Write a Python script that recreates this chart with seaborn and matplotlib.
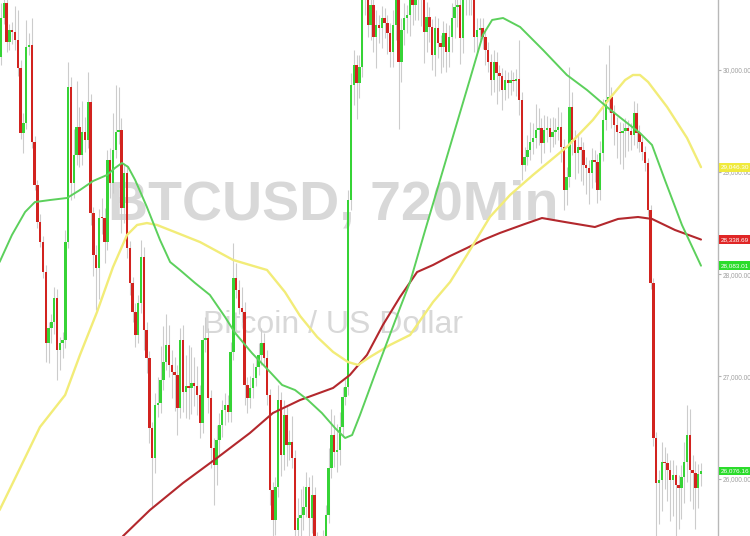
import matplotlib
matplotlib.use("Agg")
import matplotlib.pyplot as plt
import matplotlib.transforms as mtrans
from matplotlib.ticker import FixedLocator, FuncFormatter
import seaborn as sns
import numpy as np

sns.set_theme(style="white")
plt.rcParams['font.family'] = ['Liberation Sans Narrow', 'Liberation Sans', 'DejaVu Sans']

# ---------------- data (BTCUSD, 12h candles) ----------------
first_open = 30123
closes = [
    30504, 30651, 30269, 30387, 30367, 30289, 30015, 29380, 29478, 30221,
    30240, 29292, 28872, 28510, 28314, 28021, 27328, 27474, 27533, 27767,
    27259, 27328, 27357, 28314, 29830, 28892, 29165, 29439, 29165, 29390,
    29312, 29683, 28598, 28187, 28060, 28549, 28545, 28314, 29117, 28892,
    29214, 29390, 29410, 28647, 28989, 28256, 27914, 27631, 27406, 27719,
    28168, 27455, 27181, 26496, 26203, 26721, 26741, 26966, 27142, 27308,
    27113, 27044, 27015, 26692, 27357, 26849, 26907, 26888, 26937, 26907,
    26819, 26545, 27357, 27377, 26790, 26301, 26135, 26379, 26526, 26672,
    26721, 26653, 27240, 27963, 27846, 27670, 27631, 26917, 26790, 26888,
    26986, 27093, 27211, 27328, 27181, 26819, 25890, 25598, 25920, 26770,
    26232, 26623, 26330, 26360, 26203, 25500, 25617, 25646, 25725, 25920,
    25617, 25842, 25402, 25109, 25207, 25422, 25646, 26105, 26428, 26262,
    26281, 26506, 26800, 26897, 28725, 29849, 30045, 29869, 30025, 30680,
    30875, 30436, 30631, 30318, 30436, 30406, 30504, 30455, 30357, 30172,
    30436, 30778, 30074, 30387, 30504, 30533, 30729, 30631, 30758, 30680,
    30709, 30367, 30514, 30416, 30142, 30406, 30260, 30221, 30357, 30172,
    30318, 30504, 30612, 30631, 30309, 30729, 30827, 30729, 30680, 30318,
    30387, 30406, 30318, 30191, 30074, 29898, 30074, 29966, 29937, 29800,
    29898, 29869, 29898, 29890, 29908, 29703, 29068, 29146, 29214, 29292,
    29332, 29410, 29429, 29283, 29410, 29429, 29341, 29390, 29410, 29439,
    29244, 28823, 28950, 29634, 29312, 29185, 29244, 29214, 29068, 29038,
    28989, 29117, 29097, 28823, 29185, 29508, 29703, 29732, 29576, 29459,
    29390, 29380, 29400, 29429, 29400, 29361, 29576, 29380, 29292, 29195,
    29087, 28627, 27914, 26399, 25959, 25988, 26164, 26154, 26086, 25988,
    26037, 25939, 25910, 26017, 26164, 26428, 26086, 26057, 25910, 26047,
    26076.16]

# upper / lower wick lengths (USD beyond the body)
up_wick = [
    150, 100, 120, 60, 80, 250, 290, 80, 100, 260,
    120, 260, 60, 50, 80, 60, 70, 60, 80, 110,
    90, 60, 80, 120, 245, 100, 250, 450, 200, 300,
    150, 290, 80, 60, 100, 90, 200, 100, 100, 120,
    360, 460, 420, 120, 100, 80, 70, 60, 90, 80,
    165, 100, 80, 70, 60, 120, 250, 330, 350, 300,
    200, 150, 150, 100, 120, 150, 300, 400, 350, 250,
    200, 100, 150, 200, 100, 80, 100, 150, 120, 100,
    120, 100, 100, 340, 150, 100, 200, 100, 80, 120,
    150, 100, 120, 150, 100, 80, 60, 80, 100, 150,
    80, 150, 100, 120, 250, 80, 200, 250, 200, 150,
    100, 200, 80, 80, 100, 80, 100, 200, 250, 200,
    250, 150, 100, 80, 100, 120, 150, 100, 120, 200,
    200, 150, 150, 120, 150, 100, 120, 100, 80, 100,
    150, 200, 100, 120, 150, 100, 200, 150, 200, 150,
    150, 100, 150, 100, 80, 120, 100, 80, 120, 100,
    120, 150, 150, 150, 100, 200, 200, 150, 150, 100,
    120, 100, 100, 80, 80, 80, 120, 100, 80, 80,
    100, 80, 100, 80, 100, 380, 80, 100, 150, 200,
    150, 250, 200, 100, 150, 120, 100, 150, 120, 200,
    150, 80, 100, 390, 150, 100, 120, 100, 80, 80,
    80, 120, 100, 80, 120, 200, 350, 510, 100, 80,
    80, 100, 80, 100, 80, 80, 120, 100, 80, 60,
    60, 50, 50, 50, 60, 100, 200, 150, 100, 100,
    150, 100, 100, 120, 200, 290, 250, 150, 120, 100,
    80]
down_wick = [
    80, 60, 100, 80, 120, 100, 80, 60, 200, 60,
    80, 60, 50, 60, 50, 60, 185, 200, 150, 120,
    290, 200, 150, 80, 60, 165, 150, 100, 120, 100,
    120, 80, 120, 200, 410, 300, 150, 200, 80, 150,
    100, 80, 120, 245, 150, 100, 120, 100, 120, 80,
    100, 200, 150, 150, 490, 150, 120, 100, 100, 80,
    120, 250, 350, 265, 100, 200, 250, 300, 250, 200,
    200, 150, 100, 120, 150, 200, 390, 200, 150, 120,
    150, 100, 100, 80, 80, 60, 100, 200, 150, 100,
    100, 80, 80, 100, 80, 100, 150, 300, 150, 100,
    200, 150, 200, 150, 100, 300, 150, 200, 150, 100,
    250, 150, 300, 200, 300, 150, 100, 80, 100, 150,
    200, 150, 100, 80, 80, 100, 200, 350, 150, 100,
    150, 120, 150, 150, 300, 150, 200, 150, 200, 150,
    150, 150, 650, 200, 150, 150, 200, 200, 150, 200,
    250, 300, 200, 150, 150, 200, 150, 250, 200, 200,
    150, 150, 200, 200, 250, 150, 200, 200, 150, 150,
    150, 100, 120, 150, 100, 150, 120, 300, 150, 200,
    100, 150, 120, 100, 150, 150, 147, 60, 80, 100,
    120, 100, 150, 200, 100, 120, 150, 100, 120, 100,
    150, 200, 150, 100, 150, 250, 200, 300, 200, 250,
    300, 150, 200, 127, 100, 80, 100, 120, 150, 200,
    250, 300, 350, 250, 200, 150, 100, 150, 100, 80,
    80, 60, 60, 80, 800, 400, 300, 250, 300, 400,
    350, 600, 400, 300, 250, 200, 300, 350, 400, 200,
    120]

# moving averages (candle position, price)
ma_fast_pos = [-0.5, 3.9, 8.6, 12.1, 17.5, 23.6, 28.2, 32.9, 37.9, 40.7, 43.2, 45.4, 47.9,
               52.1, 56.8, 60.4, 63.9, 69.3, 74.6, 80.0, 83.6, 89.6, 95.4, 100.4, 105.0,
               109.6, 114.6, 119.3, 122.9, 125.4, 128.2, 133.6, 142.5, 146.1, 151.4, 160.4,
               167.5, 172.1, 175.4, 179.3, 185.4, 193.6, 202.1, 209.3, 216.4, 223.6, 228.2,
               232.5, 237.1, 243.2, 250]
ma_fast_val = [28119, 28383, 28608, 28705, 28725, 28745, 28823, 28911, 28970, 29038, 29087,
               29048, 28921, 28657, 28334, 28119, 28041, 27914, 27797, 27582, 27426, 27230,
               27064, 26917, 26868, 26770, 26643, 26496, 26399, 26428, 26623, 27025, 27670,
               27924, 28422, 29253, 29908, 30338, 30485, 30504, 30416, 30191, 29947, 29800,
               29634, 29478, 29380, 29263, 28921, 28481, 28083.01]
ma_mid_pos = [-0.5, 6.8, 13.9, 22.9, 28.2, 34.3, 40.0, 45.0, 48.6, 52.1, 55.7, 62.1, 71.1,
              82.9, 88.9, 95.0, 101.4, 106.8, 112.9, 118.6, 123.9, 127.5, 131.8, 138.9,
              146.1, 154.3, 160.4, 166.4, 174.6, 181.8, 190.0, 202.1, 211.4, 217.5, 222.9,
              225.7, 228.2, 231.1, 237.9, 245.0, 250]
ma_mid_val = [25695, 26105, 26506, 26819, 27211, 27631, 28070, 28383, 28481, 28500, 28481,
              28412, 28314, 28139, 28090, 28041, 27826, 27592, 27387, 27240, 27142, 27113,
              27191, 27308, 27406, 27728, 27924, 28187, 28559, 28774, 28970, 29244, 29508,
              29722, 29898, 29947, 29947, 29879, 29634, 29332, 29046.30]
ma_slow_pos = [38.9, 43.6, 53.2, 65.0, 77.1, 88.9, 97.1, 106.8, 118.6, 124.6, 130.7, 136.4,
               142.5, 148.6, 154.3, 160.4, 166.4, 172.1, 178.2, 187.1, 193.2, 201.4, 212.1,
               220.4, 227.5, 232.5, 240.7, 250]
ma_slow_val = [25246, 25441, 25695, 25959, 26203, 26448, 26643, 26770, 26888, 27015, 27211,
               27504, 27777, 28021, 28090, 28178, 28256, 28334, 28403, 28491, 28549, 28510,
               28461, 28540, 28559, 28540, 28432, 28338.69]

y_ticks = [26000, 27000, 28000, 29000, 30000]
title_text = "BTCUSD, 720Min"
subtitle_text = "Bitcoin / US Dollar"

# ---------------- colours ----------------
UP = '#36d336'
DOWN = '#d2231f'
WICK = '#cccccc'
C_FAST = '#5cd05c'
C_MID = '#f2ec78'
C_SLOW = '#b3282d'

# ---------------- figure ----------------
fig = plt.figure(figsize=(7.5, 5.36), dpi=100)
ax = fig.add_axes([0, 0, 718 / 750, 1])

closes_a = np.array(closes, dtype=float)
opens_a = np.concatenate([[first_open], closes_a[:-1]])
idx = np.arange(len(closes_a))
top = np.maximum(opens_a, closes_a)
bot = np.minimum(opens_a, closes_a)
highs = top + np.array(up_wick)
lows = bot - np.array(down_wick)
colors = [UP if c >= o else DOWN for o, c in zip(opens_a, closes_a)]
heights = np.maximum(top - bot, 12)

# watermark
ax.text(0.464, 0.617, title_text, transform=ax.transAxes, ha='center', va='center',
        fontsize=40, fontweight='bold', color='#d8d8d8', zorder=0.5)
ax.text(0.464, 0.393, subtitle_text, transform=ax.transAxes, ha='center', va='center',
        fontsize=23, color='#d8d8d8', zorder=0.5)

ax.vlines(idx, lows, highs, color=WICK, linewidth=0.8, zorder=2)
ax.bar(idx, heights, bottom=bot, width=0.85, color=colors, linewidth=0, zorder=3)

sns.lineplot(x=ma_slow_pos, y=ma_slow_val, ax=ax, color=C_SLOW, linewidth=1.5,
             estimator=None, sort=False, zorder=4)
sns.lineplot(x=ma_mid_pos, y=ma_mid_val, ax=ax, color=C_MID, linewidth=1.7,
             estimator=None, sort=False, zorder=4)
sns.lineplot(x=ma_fast_pos, y=ma_fast_val, ax=ax, color=C_FAST, linewidth=1.4,
             estimator=None, sort=False, zorder=4)

ax.set_xlim(-0.36, 256.07)
ax.set_ylim(25441, 30680)
ax.set_xticks([])
ax.set_xlabel('')
ax.set_ylabel('')
for s in ['left', 'top', 'bottom']:
    ax.spines[s].set_visible(False)
ax.spines['right'].set_color('#b8b8b8')
ax.spines['right'].set_linewidth(1.0)
ax.yaxis.tick_right()
ax.yaxis.set_major_locator(FixedLocator(y_ticks))
ax.yaxis.set_major_formatter(FuncFormatter(lambda v, p: f"{v:,.2f}"))
ax.tick_params(axis='y', right=True, length=2.5, width=0.8, color='#b0b0b0',
               labelcolor='#a0a0a0', labelsize=4.7, pad=0.8)

# last-value labels on the price scale
trans = mtrans.blended_transform_factory(ax.transAxes, ax.transData)
for val, col in [(ma_mid_val[-1], '#f0ea3c'), (ma_slow_val[-1], '#e02626'),
                 (ma_fast_val[-1], '#2cdc2c'), (closes[-1], '#2cdc2c')]:
    ax.text(1.004, val, f"{val:,.2f}", transform=trans, ha='left', va='center',
            color='white', fontsize=4.6, clip_on=False, zorder=6,
            bbox=dict(boxstyle='square,pad=0.3', fc=col, ec='none'))

fig.savefig('out.png', dpi=100)
